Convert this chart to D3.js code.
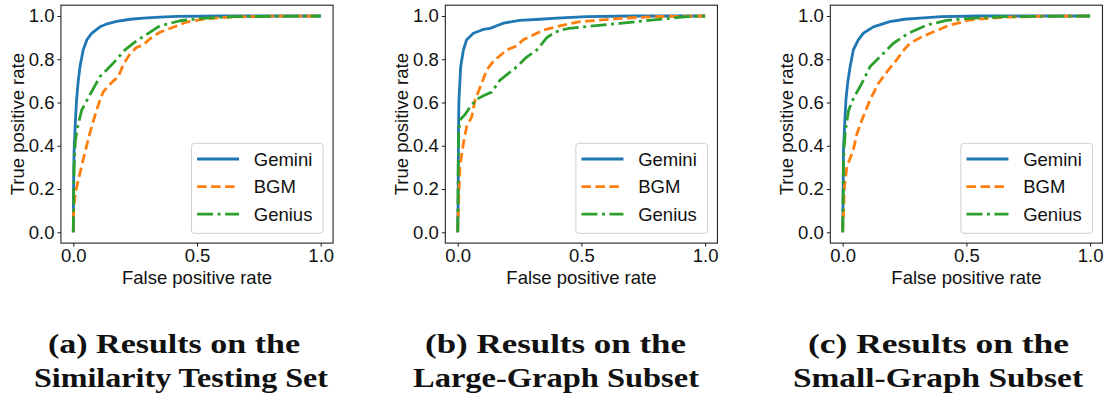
<!DOCTYPE html>
<html>
<head>
<meta charset="utf-8">
<script src="https://cdn.jsdelivr.net/npm/d3@7"></script>
<style>
  html, body { margin: 0; padding: 0; background: #fff; }
  svg { display: block; }
</style>
</head>
<body>
<div id="chart"></div>
<script>
// ---- Data (ROC points, [fpr, tpr]) ----
const seriesNames = ['Gemini', 'BGM', 'Genius'];
const xTicks = [0, 0.5, 1.0];
const yTicks = [0, 0.2, 0.4, 0.6, 0.8, 1.0];

const gemA = [[0,0],[0.001,0.2],[0.003,0.37],[0.008,0.5],[0.013,0.61],[0.02,0.7],[0.027,0.766],[0.04,0.843],[0.055,0.89],[0.074,0.92],[0.108,0.95],[0.14,0.965],[0.175,0.975],[0.23,0.985],[0.283,0.99],[0.35,0.995],[0.42,0.998],[0.6,1],[1,1]];
const bgmA = [[0,0],[0.002,0.12],[0.011,0.196],[0.027,0.273],[0.047,0.37],[0.067,0.458],[0.094,0.565],[0.108,0.611],[0.121,0.65],[0.162,0.7],[0.182,0.72],[0.202,0.775],[0.229,0.825],[0.256,0.855],[0.283,0.866],[0.31,0.895],[0.35,0.925],[0.404,0.948],[0.458,0.972],[0.539,0.987],[0.647,0.996],[0.8,0.999],[1,1]];
const genA = [[0,0],[0.003,0.3],[0.008,0.42],[0.016,0.48],[0.034,0.565],[0.067,0.635],[0.108,0.72],[0.16,0.78],[0.209,0.843],[0.25,0.88],[0.303,0.92],[0.35,0.955],[0.391,0.966],[0.431,0.978],[0.512,0.989],[0.647,0.997],[1,1]];

const gemB = [[0,0],[0.002,0.15],[0.003,0.46],[0.005,0.61],[0.012,0.765],[0.023,0.843],[0.036,0.89],[0.05,0.905],[0.063,0.92],[0.09,0.932],[0.104,0.938],[0.131,0.943],[0.158,0.955],[0.185,0.967],[0.25,0.98],[0.333,0.985],[0.4,0.99],[0.52,0.997],[0.7,1],[1,1]];
const bgmB = [[0,0],[0.004,0.15],[0.009,0.304],[0.023,0.41],[0.036,0.488],[0.057,0.535],[0.07,0.611],[0.097,0.688],[0.117,0.75],[0.144,0.79],[0.198,0.843],[0.239,0.862],[0.265,0.89],[0.292,0.905],[0.346,0.935],[0.427,0.958],[0.495,0.974],[0.522,0.976],[0.656,0.989],[0.791,0.997],[1,1]];
const genB = [[0,0],[0.002,0.3],[0.004,0.46],[0.009,0.519],[0.03,0.545],[0.05,0.58],[0.077,0.615],[0.11,0.635],[0.137,0.648],[0.171,0.704],[0.239,0.765],[0.279,0.81],[0.32,0.843],[0.36,0.9],[0.387,0.92],[0.414,0.935],[0.45,0.943],[0.522,0.951],[0.656,0.966],[0.791,0.982],[0.926,0.997],[1,1]];

const gemC = [[0,0],[0.002,0.2],[0.003,0.38],[0.008,0.5],[0.013,0.611],[0.02,0.69],[0.03,0.765],[0.043,0.843],[0.063,0.89],[0.083,0.92],[0.124,0.95],[0.19,0.974],[0.25,0.985],[0.312,0.99],[0.4,0.997],[0.55,1],[1,1]];
const bgmC = [[0,0],[0.004,0.12],[0.007,0.211],[0.017,0.304],[0.043,0.381],[0.058,0.458],[0.083,0.535],[0.11,0.611],[0.144,0.688],[0.184,0.75],[0.218,0.797],[0.245,0.84],[0.272,0.874],[0.314,0.9],[0.353,0.92],[0.433,0.958],[0.516,0.982],[0.65,0.994],[0.8,0.999],[1,1]];
const genC = [[0,0],[0.003,0.3],[0.006,0.4],[0.011,0.47],[0.024,0.565],[0.044,0.62],[0.077,0.688],[0.11,0.765],[0.151,0.812],[0.205,0.874],[0.265,0.92],[0.339,0.958],[0.42,0.98],[0.515,0.989],[0.65,0.997],[1,1]];

const captionLine1 = ['(a) Results on the', '(b) Results on the', '(c) Results on the'];
const captionLine2 = ['Similarity Testing Set', 'Large-Graph Subset', 'Small-Graph Subset'];

const panels = [
  { series: [gemA, bgmA, genA] },
  { series: [gemB, bgmB, genB] },
  { series: [gemC, bgmC, genC] },
];

// ---- Styling ----
const W = 1107, H = 395;
const colors = ['#1f77b4', '#ff7f0e', '#2ca02c'];
const dashes = [null, '9.5,4.5', '16,4.5,3,4.5'];
const sansFont = 'Liberation Sans, Arial, Helvetica, sans-serif';
const serifFont = 'Liberation Serif, Times New Roman, serif';
const fontSize = 18.5;

// panel geometry: pixel of x=0, width of unit, y of 0 and 1
const x0s = [73.3, 457.7, 842.7];
const unitW = 247.4;
const yZero = 232.3, yOne = 16;

// caption layout (start x, width) per line
const cap1 = [[48, 252], [425, 261], [808, 261]];
const cap2 = [[34, 294], [413, 286], [793, 290]];

const svg = d3.select('#chart').append('svg')
  .attr('width', W).attr('height', H)
  .attr('viewBox', `0 0 ${W} ${H}`);

panels.forEach((p, i) => {
  const x = d3.scaleLinear().domain([0, 1]).range([x0s[i], x0s[i] + unitW]);
  const y = d3.scaleLinear().domain([0, 1]).range([yZero, yOne]);
  const left = x(-0.05), right = x(1.05), top = y(1.05), bottom = y(-0.05);

  const g = svg.append('g');

  const clipId = `clip-${i}`;
  g.append('clipPath').attr('id', clipId)
    .append('rect').attr('x', left).attr('y', top)
    .attr('width', right - left).attr('height', bottom - top);

  // curves
  const line = d3.line().x(d => x(d[0])).y(d => y(d[1]));
  const gc = g.append('g').attr('clip-path', `url(#${clipId})`);
  p.series.forEach((s, k) => {
    gc.append('path')
      .datum(s)
      .attr('d', line)
      .attr('fill', 'none')
      .attr('stroke', colors[k])
      .attr('stroke-width', 2.8)
      .attr('stroke-linejoin', 'round')
      .attr('stroke-dasharray', dashes[k]);
  });

  // axes
  const xAxis = d3.axisBottom(x).tickValues(xTicks).tickFormat(d3.format('.1f')).tickSizeOuter(0).tickSize(3.5).tickPadding(2.5);
  const yAxis = d3.axisLeft(y).tickValues(yTicks).tickFormat(d3.format('.1f')).tickSizeOuter(0).tickSize(3.5).tickPadding(3);

  const gx = g.append('g').attr('transform', `translate(0,${bottom})`).call(xAxis);
  const gy = g.append('g').attr('transform', `translate(${left},0)`).call(yAxis);
  [gx, gy].forEach(a => {
    a.select('.domain').remove();
    a.selectAll('line').attr('stroke', '#222').attr('stroke-width', 1);
    a.selectAll('text').attr('fill', '#111')
      .style('font-family', sansFont).style('font-size', fontSize + 'px');
  });

  // frame
  g.append('rect')
    .attr('x', left).attr('y', top)
    .attr('width', right - left).attr('height', bottom - top)
    .attr('fill', 'none').attr('stroke', '#222').attr('stroke-width', 1.1);

  // axis labels
  g.append('text')
    .attr('x', (left + right) / 2).attr('y', 284)
    .attr('text-anchor', 'middle')
    .style('font-family', sansFont).style('font-size', fontSize + 'px')
    .attr('fill', '#111')
    .text('False positive rate');

  g.append('text')
    .attr('transform', `translate(${left - 37},${(top + bottom) / 2}) rotate(-90)`)
    .attr('text-anchor', 'middle')
    .style('font-family', sansFont).style('font-size', fontSize + 'px')
    .attr('fill', '#111')
    .text('True positive rate');

  // legend
  const lgW = 131.6, lgH = 90;
  const lgX = right - 10 - lgW, lgY = bottom - 9.8 - lgH;
  const lg = g.append('g').attr('transform', `translate(${lgX},${lgY})`);
  lg.append('rect')
    .attr('width', lgW).attr('height', lgH)
    .attr('rx', 3).attr('ry', 3)
    .attr('fill', '#fff').attr('fill-opacity', 0.8)
    .attr('stroke', '#d0d0d0').attr('stroke-width', 1);
  seriesNames.forEach((name, k) => {
    const ry = 15.7 + k * 27.6;
    lg.append('line')
      .attr('x1', 5.6).attr('x2', 47.6).attr('y1', ry).attr('y2', ry)
      .attr('stroke', colors[k]).attr('stroke-width', 2.8)
      .attr('stroke-dasharray', dashes[k]);
    lg.append('text')
      .attr('x', 62.3).attr('y', ry + 6.7)
      .style('font-family', sansFont).style('font-size', fontSize + 'px')
      .attr('fill', '#111')
      .text(name);
  });

  // captions
  [[captionLine1[i], cap1[i], 353], [captionLine2[i], cap2[i], 387]].forEach(([txt, pos, by]) => {
    svg.append('text')
      .attr('x', pos[0]).attr('y', by)
      .attr('textLength', pos[1]).attr('lengthAdjust', 'spacingAndGlyphs')
      .style('font-family', serifFont).style('font-size', '27px').style('font-weight', 'bold')
      .attr('fill', '#111')
      .text(txt);
  });
});
</script>
</body>
</html>
